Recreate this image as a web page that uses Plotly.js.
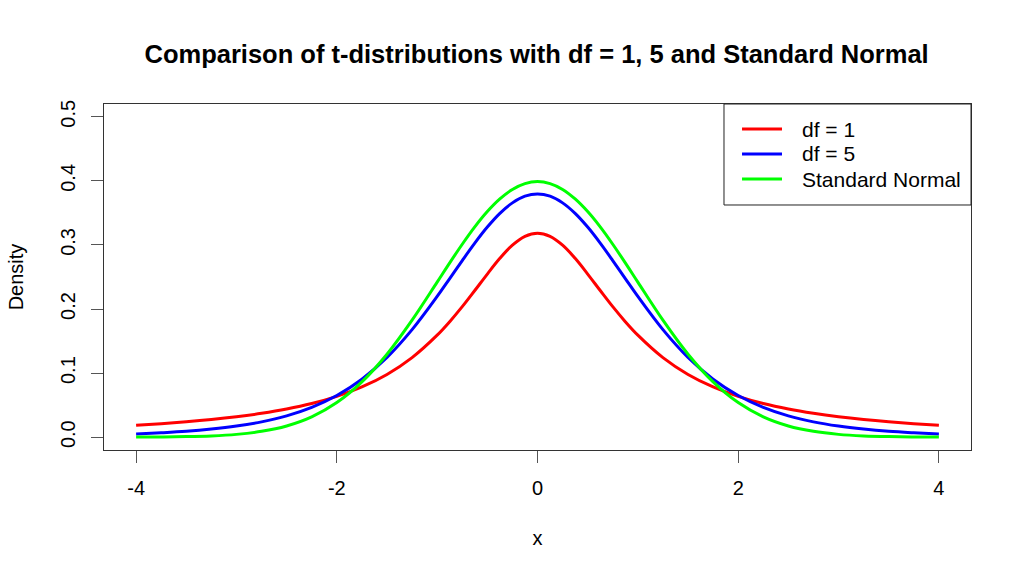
<!DOCTYPE html>
<html>
<head>
<meta charset="utf-8">
<script src="https://cdn.plot.ly/plotly-3.0.1.min.js"></script>
<style>
  html, body { margin: 0; padding: 0; background: #fff; }
  #chart { width: 1024px; height: 579px; }
</style>
</head>
<body>
<div id="chart"></div>
<script>
"use strict";

// x grid the curves were read on (finer near the peak)
var xs = [-4, -3.75, -3.5, -3.25, -3, -2.75, -2.5, -2.25, -2, -1.75, -1.5, -1.25, -1, -0.875, -0.75, -0.625, -0.5, -0.375, -0.25, -0.125,
          0, 0.125, 0.25, 0.375, 0.5, 0.625, 0.75, 0.875, 1, 1.25, 1.5, 1.75, 2, 2.25, 2.5, 2.75, 3, 3.25, 3.5, 3.75, 4];

// df = 1
var dfOne = [0.0187, 0.0211, 0.0240, 0.0275, 0.0318, 0.0372, 0.0439, 0.0525, 0.0637, 0.0784, 0.0979, 0.1242, 0.1592, 0.1803, 0.2037, 0.2289, 0.2546, 0.2791, 0.2996, 0.3134,
             0.3183, 0.3134, 0.2996, 0.2791, 0.2546, 0.2289, 0.2037, 0.1803, 0.1592, 0.1242, 0.0979, 0.0784, 0.0637, 0.0525, 0.0439, 0.0372, 0.0318, 0.0275, 0.0240, 0.0211, 0.0187];

// df = 5
var dfFive = [0.0051, 0.0069, 0.0092, 0.0126, 0.0173, 0.0239, 0.0333, 0.0466, 0.0651, 0.0905, 0.1245, 0.1679, 0.2197, 0.2476, 0.2757, 0.3029, 0.3279, 0.3493, 0.3657, 0.3761,
              0.3796, 0.3761, 0.3657, 0.3493, 0.3279, 0.3029, 0.2757, 0.2476, 0.2197, 0.1679, 0.1245, 0.0905, 0.0651, 0.0466, 0.0333, 0.0239, 0.0173, 0.0126, 0.0092, 0.0069, 0.0051];

// standard normal
var stdNormal = [0.0001, 0.0004, 0.0009, 0.0020, 0.0044, 0.0091, 0.0175, 0.0317, 0.0540, 0.0863, 0.1295, 0.1826, 0.2420, 0.2721, 0.3011, 0.3282, 0.3521, 0.3718, 0.3867, 0.3958,
                 0.3989, 0.3958, 0.3867, 0.3718, 0.3521, 0.3282, 0.3011, 0.2721, 0.2420, 0.1826, 0.1295, 0.0863, 0.0540, 0.0317, 0.0175, 0.0091, 0.0044, 0.0020, 0.0009, 0.0004, 0.0001];

var seriesNames = ["df = 1", "df = 5", "Standard Normal"];
var seriesColors = ["#ff0000", "#0000ff", "#00ff00"];

var xTicks = [-4, -2, 0, 2, 4];
var xTickText = ["-4", "-2", "0", "2", "4"];
var yTicks = [0, 0.1, 0.2, 0.3, 0.4, 0.5];
var yTickText = ["0.0", "0.1", "0.2", "0.3", "0.4", "0.5"];

var FONT = "Liberation Sans, Arial, sans-serif";

function curve(y, i){
    return {
        x: xs,
        y: y,
        name: seriesNames[i],
        type: "scatter",
        mode: "lines",
        line: {color: seriesColors[i], width: 3, shape: "spline", smoothing: 1}
    };
}

var traces = [curve(dfOne, 0), curve(dfFive, 1), curve(stdNormal, 2)];

// R-style legend box in the top right corner, drawn in paper coordinates
var legendShapes = [{
    type: "rect", xref: "paper", yref: "paper",
    x0: 0.7151, x1: 1, y0: 0.7081, y1: 1,
    line: {color: "#222", width: 1}, fillcolor: "#fff", layer: "above"
}];
var legendNotes = [];
var rowY = [0.9277, 0.8555, 0.7832];
for (var i = 0; i < seriesNames.length; i++){
    legendShapes.push({
        type: "line", xref: "paper", yref: "paper",
        x0: 0.7359, x1: 0.7820, y0: rowY[i], y1: rowY[i],
        line: {color: seriesColors[i], width: 3}, layer: "above"
    });
    legendNotes.push({
        xref: "paper", yref: "paper",
        x: 0.8028, y: rowY[i], xanchor: "left", yanchor: "middle",
        text: seriesNames[i], showarrow: false,
        font: {family: FONT, size: 21, color: "#000"}
    });
}

var axisCommon = {
    showgrid: false,
    zeroline: false,
    showline: true,
    mirror: true,
    linecolor: "#333",
    linewidth: 1,
    ticks: "outside",
    ticklen: 12,
    tickcolor: "#555",
    tickwidth: 1,
    tickfont: {family: FONT, size: 20, color: "#000"}
};

var layout = {
    width: 1024,
    height: 579,
    margin: {l: 104, r: 53, t: 104, b: 129},
    paper_bgcolor: "#fff",
    plot_bgcolor: "#fff",
    font: {family: FONT, color: "#000"},
    title: {
        text: "<b>Comparison of t-distributions with df = 1, 5 and Standard Normal</b>",
        font: {family: FONT, size: 25.5, color: "#000"},
        x: 0.524, xanchor: "center",
        y: 0.907, yanchor: "middle"
    },
    xaxis: Object.assign({}, axisCommon, {
        range: [-4.32, 4.32],
        tickvals: xTicks,
        ticktext: xTickText,
        ticklabelstandoff: 8,
        title: {text: "x", font: {family: FONT, size: 20}, standoff: 32}
    }),
    yaxis: Object.assign({}, axisCommon, {
        range: [-0.02, 0.52],
        tickvals: yTicks,
        ticktext: yTickText,
        tickangle: -90,
        ticklabelstandoff: 8,
        title: {text: "Density", font: {family: FONT, size: 20}, standoff: 28}
    }),
    showlegend: false,
    shapes: legendShapes,
    annotations: legendNotes
};

Plotly.newPlot("chart", traces, layout, {staticPlot: true, displayModeBar: false});
</script>
</body>
</html>
